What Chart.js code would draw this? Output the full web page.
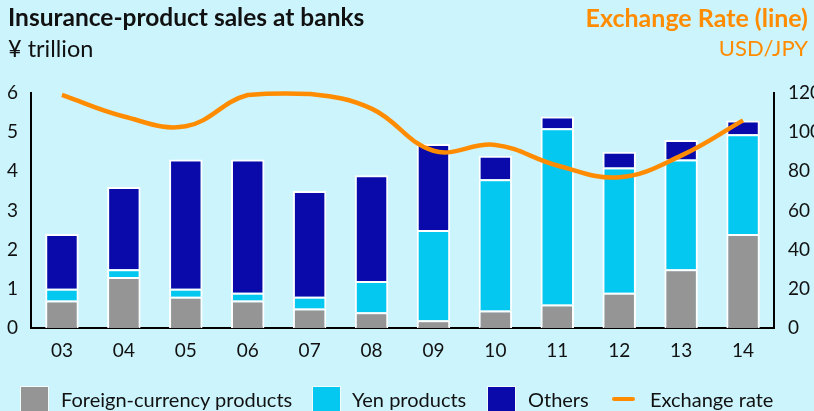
<!DOCTYPE html>
<html>
<head>
<meta charset="utf-8">
<script src="https://cdn.jsdelivr.net/npm/chart.js@4.4.1/dist/chart.umd.min.js"></script>
<style>
  html, body { margin: 0; padding: 0; background: #ccf4fc; overflow: hidden; }
  #wrap { position: relative; width: 814px; height: 411px; font-family: Lato, 'Noto Sans', sans-serif; }
  #chart { position: absolute; left: 0; top: 0; }
  .t { position: absolute; white-space: nowrap; line-height: 1; }
  .lg { position: absolute; top: 386px; height: 30px; box-sizing: border-box; border: 1px solid #f4fbfd; }
  .lgt { position: absolute; top: 389px; font-size: 20px; color: #111; white-space: nowrap; line-height: 1; }
</style>
</head>
<body>
<div id="wrap">
  <canvas id="chart" width="814" height="411"></canvas>
  <div class="t" style="left:8px; top:5px; font-size:24.5px; font-weight:bold; color:#111;">Insurance-product sales at banks</div>
  <div class="t" style="left:8px; top:37px; font-size:23.5px; color:#111;">¥ trillion</div>
  <div class="t" style="right:6px; top:5px; font-size:25px; font-weight:bold; color:#ff8c00;">Exchange Rate (line)</div>
  <div class="t" style="right:6px; top:37px; font-size:22px; color:#ff8c00;">USD/JPY</div>

  <div class="lg" style="left:20px; width:29px; background:#959595;"></div>
  <div class="lgt" style="left:61px;">Foreign-currency products</div>
  <div class="lg" style="left:312px; width:29px; background:#05c8f0;"></div>
  <div class="lgt" style="left:352px;">Yen products</div>
  <div class="lg" style="left:487px; width:29px; background:#0a0aaa;"></div>
  <div class="lgt" style="left:528px;">Others</div>
  <div style="position:absolute; left:612px; top:397px; width:23px; height:4px; border-radius:2px; background:#ff8c00;"></div>
  <div class="lgt" style="left:650px;">Exchange rate</div>
</div>
<script>
// fiscal years
const years = ['03', '04', '05', '06', '07', '08', '09', '10', '11', '12', '13', '14'];

// ¥ trillion, stacked
const foreignProducts = [0.7, 1.3, 0.8, 0.7, 0.5, 0.4, 0.2, 0.45, 0.6, 0.9, 1.5, 2.4];
const yenProducts     = [0.3, 0.2, 0.2, 0.2, 0.3, 0.8, 2.3, 3.35, 4.5, 3.2, 2.8, 2.55];
const otherProducts   = [1.4, 2.1, 3.3, 3.4, 2.7, 2.7, 2.2, 0.6, 0.3, 0.4, 0.5, 0.35];

// USD/JPY
const exchangeRate = [119, 108, 103, 119, 119.5, 112, 90.5, 93.5, 83, 77, 88, 106];

const leftTicks = [0, 1, 2, 3, 4, 5, 6];
const rightTicks = [0, 20, 40, 60, 80, 100, 120];

const FONT = { family: 'Lato', size: 19 };
const INK = '#111';

function barSet(label, data, color) {
  return {
    type: 'bar',
    label,
    data,
    backgroundColor: color,
    borderColor: '#ffffff',
    borderWidth: 2,
    borderSkipped: 'start',
    barPercentage: 0.54,
    categoryPercentage: 1,
    stack: 'sales',
    yAxisID: 'y',
    order: 2,
  };
}

new Chart(document.getElementById('chart'), {
  data: {
    labels: years,
    datasets: [
      {
        type: 'line',
        label: 'Exchange rate',
        data: exchangeRate,
        borderColor: '#ff8c00',
        borderWidth: 4.5,
        pointRadius: 0,
        tension: 0.4,
        yAxisID: 'y1',
        clip: false,
        order: 1,
      },
      barSet('Foreign-currency products', foreignProducts, '#959595'),
      barSet('Yen products', yenProducts, '#05c8f0'),
      barSet('Others', otherProducts, '#0a0aaa'),
    ]
  },
  options: {
    responsive: false,
    animation: false,
    devicePixelRatio: 1,
    layout: { padding: { top: 93, bottom: 43, left: 0, right: 0 } },
    plugins: {
      legend: { display: false },
      tooltip: { enabled: false }
    },
    scales: {
      x: {
        stacked: true,
        grid: { display: false, drawTicks: false },
        border: { display: true, color: '#000', width: 2 },
        ticks: { font: FONT, color: INK, padding: 11 },
        afterFit: s => { s.height = 40; }
      },
      y: {
        stacked: true,
        position: 'left',
        min: 0,
        max: 6,
        grid: { display: false, drawTicks: false },
        border: { display: true, color: '#000', width: 2 },
        afterBuildTicks: s => { s.ticks = leftTicks.map(v => ({ value: v })); },
        ticks: { font: FONT, color: INK, padding: 13 },
        afterFit: s => { s.width = 31; }
      },
      y1: {
        position: 'right',
        min: 0,
        max: 120,
        grid: { display: false, drawTicks: false },
        border: { display: true, color: '#000', width: 2 },
        afterBuildTicks: s => { s.ticks = rightTicks.map(v => ({ value: v })); },
        ticks: { font: FONT, color: INK, padding: 14 },
        afterFit: s => { s.width = 40; }
      }
    }
  }
});
</script>
</body>
</html>
